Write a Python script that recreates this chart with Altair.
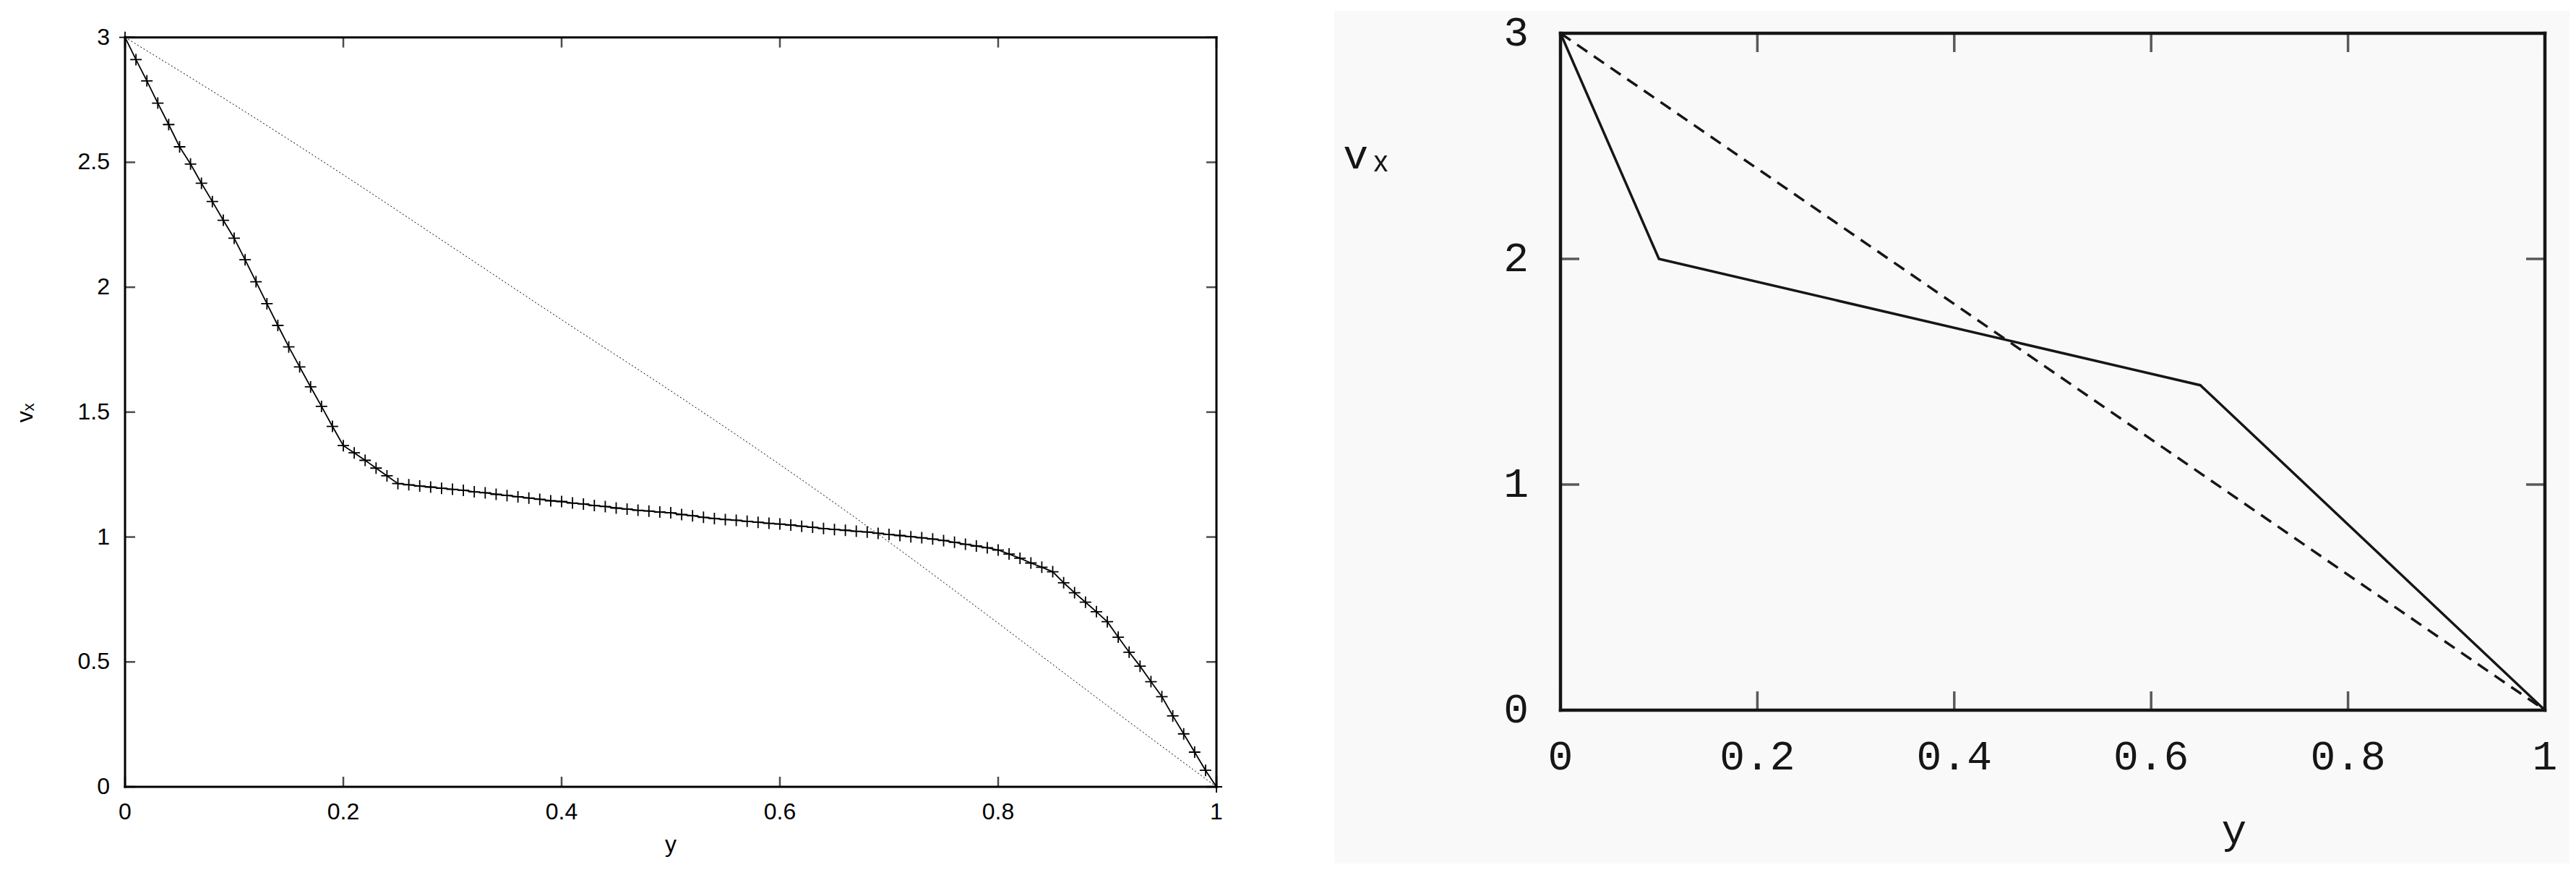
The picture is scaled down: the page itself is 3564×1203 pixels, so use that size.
import altair as alt
import pandas as pd

# ---------------- Left panel data (gnuplot-style) ----------------
curve_y = [0.00, 0.01, 0.02, 0.03, 0.04, 0.05, 0.06, 0.07, 0.08, 0.09,
           0.10, 0.11, 0.12, 0.13, 0.14, 0.15, 0.16, 0.17, 0.18, 0.19,
           0.20, 0.21, 0.22, 0.23, 0.24, 0.25, 0.26, 0.27, 0.28, 0.29,
           0.30, 0.31, 0.32, 0.33, 0.34, 0.35, 0.36, 0.37, 0.38, 0.39,
           0.40, 0.41, 0.42, 0.43, 0.44, 0.45, 0.46, 0.47, 0.48, 0.49,
           0.50, 0.51, 0.52, 0.53, 0.54, 0.55, 0.56, 0.57, 0.58, 0.59,
           0.60, 0.61, 0.62, 0.63, 0.64, 0.65, 0.66, 0.67, 0.68, 0.69,
           0.70, 0.71, 0.72, 0.73, 0.74, 0.75, 0.76, 0.77, 0.78, 0.79,
           0.80, 0.81, 0.82, 0.83, 0.84, 0.85, 0.86, 0.87, 0.88, 0.89,
           0.90, 0.91, 0.92, 0.93, 0.94, 0.95, 0.96, 0.97, 0.98, 0.99,
           1.00]
curve_v = [3.000, 2.911, 2.826, 2.737, 2.651, 2.562, 2.493, 2.416, 2.343, 2.268,
           2.196, 2.110, 2.022, 1.934, 1.847, 1.761, 1.681, 1.601, 1.523, 1.443,
           1.366, 1.337, 1.307, 1.276, 1.245, 1.214, 1.209, 1.204, 1.200, 1.195,
           1.191, 1.187, 1.181, 1.177, 1.171, 1.166, 1.161, 1.156, 1.151, 1.145,
           1.142, 1.136, 1.132, 1.126, 1.122, 1.116, 1.112, 1.107, 1.104, 1.100,
           1.097, 1.090, 1.085, 1.079, 1.074, 1.070, 1.067, 1.063, 1.059, 1.055,
           1.052, 1.048, 1.043, 1.039, 1.034, 1.030, 1.027, 1.023, 1.020, 1.015,
           1.010, 1.006, 1.001, 0.997, 0.992, 0.986, 0.979, 0.971, 0.964, 0.957,
           0.948, 0.932, 0.915, 0.896, 0.879, 0.861, 0.817, 0.777, 0.739, 0.701,
           0.661, 0.599, 0.539, 0.483, 0.421, 0.361, 0.284, 0.212, 0.139, 0.066,
           0.000]
ref_y = [0.0, 0.1, 0.2, 0.3, 0.4, 0.5, 0.6, 0.7, 0.8, 0.9, 1.0]
ref_v = [3.0, 2.73, 2.45, 2.16, 1.87, 1.585, 1.29, 0.98, 0.655, 0.325, 0.0]
left_xticks = [0, 0.2, 0.4, 0.6, 0.8, 1]
left_xlabels = ["0", "0.2", "0.4", "0.6", "0.8", "1"]
left_yticks = [0, 0.5, 1, 1.5, 2, 2.5, 3]
left_ylabels = ["0", "0.5", "1", "1.5", "2", "2.5", "3"]

# ---------------- Right panel data (scanned figure) ----------------
solid_y = [0.0, 0.1, 0.65, 1.0]
solid_v = [3.0, 2.0, 1.44, 0.0]
dash_y = [0.0, 1.0]
dash_v = [3.0, 0.0]
right_xticks = [0, 0.2, 0.4, 0.6, 0.8, 1]
right_xlabels = ["0", "0.2", "0.4", "0.6", "0.8", "1"]
right_yticks = [0, 1, 2, 3]
right_ylabels = ["0", "1", "2", "3"]

# ---------------- geometry ----------------
LW, LH = 1510, 1042
RW, RH = 1362, 936
L_TOP = 3.0165  # left plot starts slightly above v=3 (its frame sits lower than the right one)

SANS = "Liberation Sans"
MONO = "Liberation Mono"
CROSS = "M-1,0L1,0M0,-1L0,1"

one = pd.DataFrame({"a": [0]})

# ================= LEFT =================
xs_l = alt.Scale(domain=[0, 1], nice=False, zero=False)
ys_l = alt.Scale(domain=[0, L_TOP], nice=False, zero=False)

curve_df = pd.DataFrame({"y": curve_y, "v": curve_v})
ref_df = pd.DataFrame({"y": ref_y, "v": ref_v})
lframe = pd.DataFrame({"x1": [0, 0, 0, 1], "x2": [1, 1, 0, 1],
                       "y1": [0, 3, 0, 0], "y2": [0, 3, 3, 3]})
lxt = pd.DataFrame({"t": left_xticks, "lab": left_xlabels, "lo": 0, "hi": 3})
lyt = pd.DataFrame({"t": left_yticks, "lab": left_ylabels, "lo": 0, "hi": 1})


def lx(f):
    return alt.X(f, scale=xs_l, axis=None)


def ly(f):
    return alt.Y(f, scale=ys_l, axis=None)


l_curve_line = alt.Chart(curve_df).mark_line(color="black", strokeWidth=1.8).encode(
    x=lx("y:Q"), y=ly("v:Q"))
l_curve_pts = alt.Chart(curve_df).mark_point(shape=CROSS, size=256, filled=False, strokeWidth=1.8,
                                              color="black", opacity=1).encode(
    x=lx("y:Q"), y=ly("v:Q"))
l_ref = alt.Chart(ref_df).mark_line(color="black", strokeWidth=1, strokeDash=[2, 3],
                                     interpolate="monotone").encode(
    x=lx("y:Q"), y=ly("v:Q"))
l_frame = alt.Chart(lframe).mark_rule(color="black", strokeWidth=3, strokeCap="square").encode(
    x=lx("x1:Q"), x2="x2:Q", y=ly("y1:Q"), y2="y2:Q")
l_tb = alt.Chart(lxt).mark_tick(orient="vertical", size=14, thickness=2.5, color="black", yOffset=-7).encode(
    x=lx("t:Q"), y=ly("lo:Q"))
l_tt = alt.Chart(lxt).mark_tick(orient="vertical", size=14, thickness=2.5, color="black", yOffset=7).encode(
    x=lx("t:Q"), y=ly("hi:Q"))
l_tl = alt.Chart(lyt).mark_tick(orient="horizontal", size=14, thickness=2.5, color="black", xOffset=7).encode(
    x=lx("lo:Q"), y=ly("t:Q"))
l_tr = alt.Chart(lyt).mark_tick(orient="horizontal", size=14, thickness=2.5, color="black", xOffset=-7).encode(
    x=lx("hi:Q"), y=ly("t:Q"))
l_xlab = alt.Chart(lxt).mark_text(font=SANS, fontSize=32, color="black", align="center", baseline="top",
                                  dy=20).encode(x=lx("t:Q"), y=ly("lo:Q"), text="lab:N")
l_ylab = alt.Chart(lyt).mark_text(font=SANS, fontSize=32, color="black", align="right", baseline="middle",
                                  dx=-21).encode(x=lx("lo:Q"), y=ly("t:Q"), text="lab:N")
l_xtitle = alt.Chart(one).mark_text(text="y", font=SANS, fontSize=32, color="black", align="center",
                                    baseline="alphabetic").encode(x=alt.value(LW / 2), y=alt.value(LH + 90))
l_ytitle = alt.Chart(one).mark_text(text="vₓ", font=SANS, fontSize=32, color="black", align="center",
                                    baseline="alphabetic", angle=270).encode(
    x=alt.value(-128), y=alt.value(525))
# invisible box that pins the page origin (transparent, only used for layout bounds)
l_bounds = alt.Chart(one).mark_rect(fill="white", fillOpacity=0, strokeOpacity=0).encode(
    x=alt.value(-165), x2=alt.value(-100), y=alt.value(-38), y2=alt.value(0))

left = alt.layer(l_curve_line, l_ref, l_curve_pts, l_frame, l_tb, l_tt, l_tl, l_tr,
                 l_xlab, l_ylab, l_xtitle, l_ytitle, l_bounds).properties(width=LW, height=LH)

# ================= RIGHT =================
xs_r = alt.Scale(domain=[0, 1], nice=False, zero=False)
ys_r = alt.Scale(domain=[0, 3], nice=False, zero=False)
INK = "#161616"

solid_df = pd.DataFrame({"y": solid_y, "v": solid_v})
dash_df = pd.DataFrame({"y": dash_y, "v": dash_v})
rframe = pd.DataFrame({"x1": [0, 0, 0, 1], "x2": [1, 1, 0, 1],
                       "y1": [0, 3, 0, 0], "y2": [0, 3, 3, 3]})
rxt = pd.DataFrame({"t": right_xticks, "lab": right_xlabels, "lo": 0, "hi": 3})
ryt = pd.DataFrame({"t": right_yticks, "lab": right_ylabels, "lo": 0, "hi": 1})


def rx(f):
    return alt.X(f, scale=xs_r, axis=None)


def ry(f):
    return alt.Y(f, scale=ys_r, axis=None)


r_bg = alt.Chart(one).mark_rect(color="#f9f9f9").encode(
    x=alt.value(-313), x2=alt.value(1396), y=alt.value(-31), y2=alt.value(1148))
r_solid = alt.Chart(solid_df).mark_line(color=INK, strokeWidth=3.5).encode(x=rx("y:Q"), y=ry("v:Q"))
r_dash = alt.Chart(dash_df).mark_line(color=INK, strokeWidth=3.5, strokeDash=[17, 11]).encode(
    x=rx("y:Q"), y=ry("v:Q"))
r_frame = alt.Chart(rframe).mark_rule(color=INK, strokeWidth=4.5, strokeCap="square").encode(
    x=rx("x1:Q"), x2="x2:Q", y=ry("y1:Q"), y2="y2:Q")
r_tb = alt.Chart(rxt).mark_tick(orient="vertical", size=26, thickness=3.5, color=INK, yOffset=-13).encode(
    x=rx("t:Q"), y=ry("lo:Q"))
r_tt = alt.Chart(rxt).mark_tick(orient="vertical", size=26, thickness=3.5, color=INK, yOffset=13).encode(
    x=rx("t:Q"), y=ry("hi:Q"))
r_tl = alt.Chart(ryt).mark_tick(orient="horizontal", size=26, thickness=3.5, color=INK, xOffset=13).encode(
    x=rx("lo:Q"), y=ry("t:Q"))
r_tr = alt.Chart(ryt).mark_tick(orient="horizontal", size=26, thickness=3.5, color=INK, xOffset=-13).encode(
    x=rx("hi:Q"), y=ry("t:Q"))
r_xlab = alt.Chart(rxt).mark_text(font=MONO, fontSize=58, color=INK, align="center", baseline="top",
                                  dy=36).encode(x=rx("t:Q"), y=ry("lo:Q"), text="lab:N")
r_ylab = alt.Chart(ryt).mark_text(font=MONO, fontSize=58, color=INK, align="right", baseline="middle",
                                  dx=-44).encode(x=rx("lo:Q"), y=ry("t:Q"), text="lab:N")
r_xtitle = alt.Chart(one).mark_text(text="y", font=MONO, fontSize=58, color=INK, align="center",
                                    baseline="alphabetic").encode(x=alt.value(932), y=alt.value(RH + 184))
r_ytitle = alt.Chart(one).mark_text(text="vₓ", font=MONO, fontSize=58, color=INK, align="center",
                                    baseline="alphabetic").encode(x=alt.value(-266), y=alt.value(187))

right = alt.layer(r_bg, r_dash, r_solid, r_frame, r_tb, r_tt, r_tl, r_tr,
                  r_xlab, r_ylab, r_xtitle, r_ytitle).properties(width=RW, height=RH)

chart = alt.hconcat(left, right, spacing=476, bounds="flush").properties(
    padding={"left": 0, "top": 0, "right": 0, "bottom": 0},
    background="white",
).configure_view(strokeWidth=0, stroke=None)

chart.save("out.html", embed_options={"renderer": "svg", "actions": False})
